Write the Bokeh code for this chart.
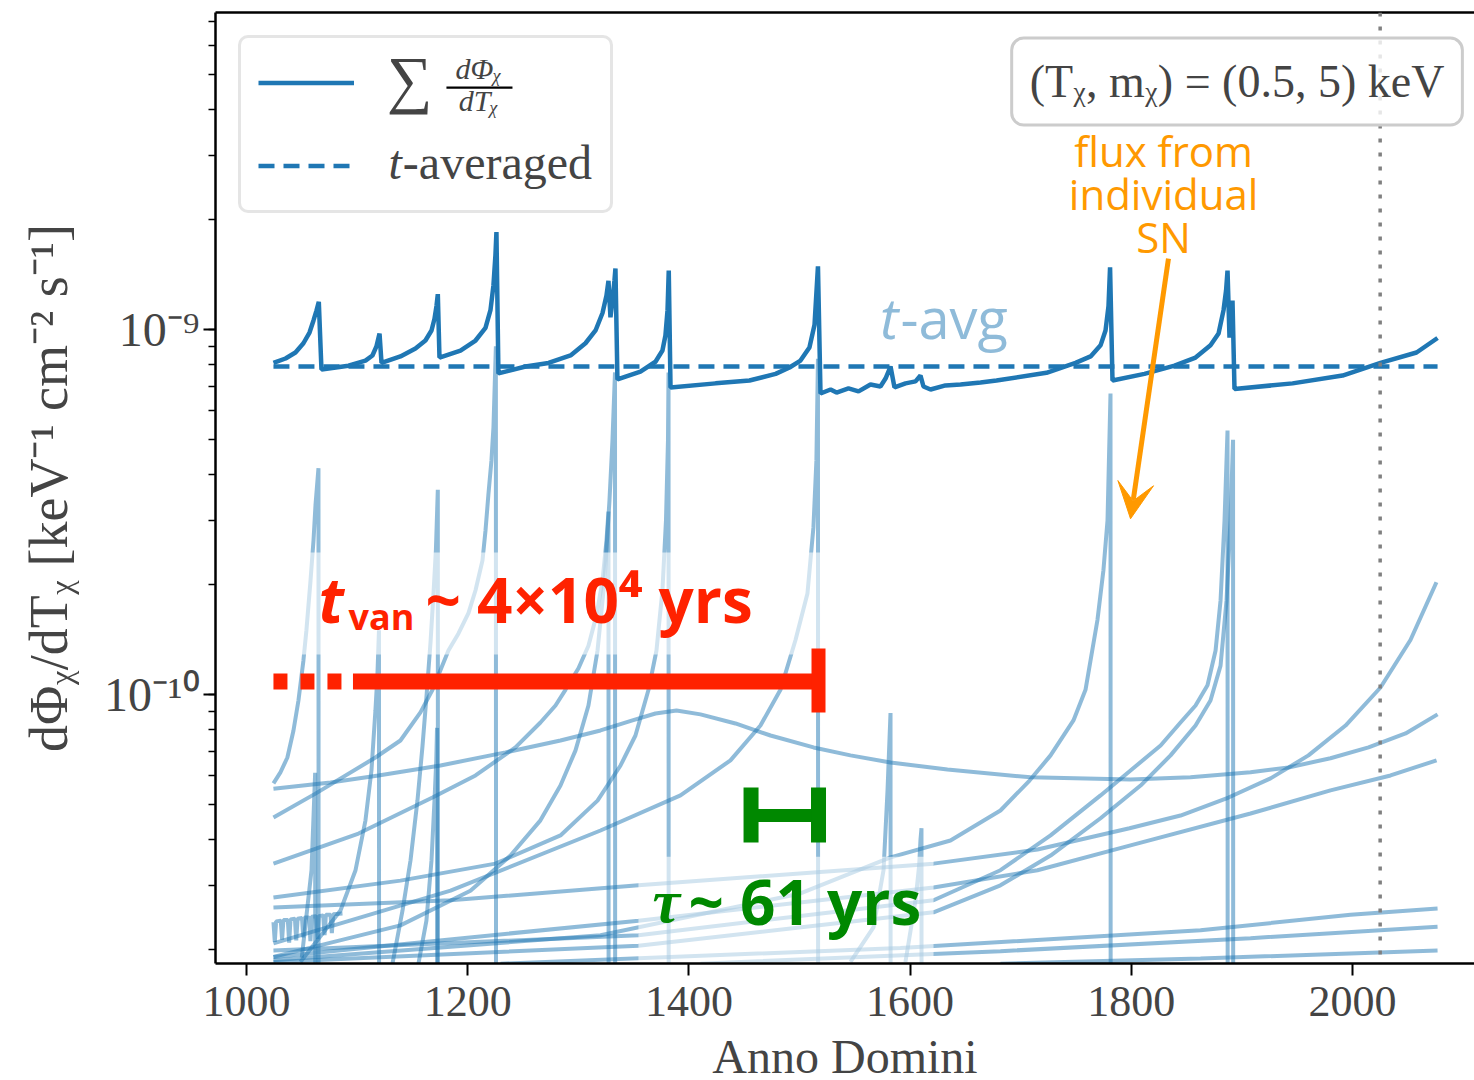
from bokeh.plotting import figure
from bokeh.models import (Range1d, LogTicker, FixedTicker, CustomJSTickFormatter,
                          LinearAxis, Legend, LegendItem, Label, Arrow, VeeHead,
                          Span, BoxAnnotation)
from bokeh.embed import file_html
from bokeh.resources import INLINE

UNIT = 1e-10  # all flux lists below are in units of 1e-10 keV^-1 cm^-2 s^-1

year_ticks = [1000, 1200, 1400, 1600, 1800, 2000]
today = 2025

# ---- summed flux over all supernovae ----
sum_year = [1024.4, 1035.3, 1044.3, 1051.5, 1057.0, 1060.6, 1063.3, 1065.4,
            1067.8, 1092.2, 1107.6, 1113.9, 1117.5, 1120.3,
            1122.1, 1139.2, 1152.8, 1161.8, 1167.3, 1170.0, 1171.8, 1173.0,
            1174.5, 1193.5, 1207.1, 1216.1, 1220.6, 1223.3, 1225.1, 1226.0,
            1227.8, 1252.3, 1273.1, 1293.0, 1306.5, 1315.6, 1321.9, 1325.5, 1327.3, 1329.1,
            1330.9, 1332.7, 1333.6,
            1335.4, 1356.2, 1369.8, 1376.1, 1378.8, 1380.7, 1381.8,
            1383.4, 1424.1, 1454.8, 1478.4, 1491.0, 1500.9, 1509.0, 1513.6, 1516.7,
            1519.0, 1528.1, 1533.5, 1544.3, 1553.4, 1564.2, 1573.2, 1577.8, 1582.3, 1585.9,
            1595.9, 1604.9, 1609.4, 1612.1, 1618.5, 1632.0, 1645.6, 1663.7,
            1678.1, 1723.3, 1749.6, 1763.2, 1772.2, 1776.7, 1779.4, 1780.8,
            1783.0, 1811.9, 1839.1, 1858.1, 1871.6, 1878.9, 1883.4, 1885.7, 1887.0, 1888.8,
            1890.6, 1891.5,
            1893.3, 1945.8, 1991.0, 2025.3, 2057.9, 2076.9]
sum_flux = [8.10, 8.33, 8.65, 9.17, 9.81, 10.59, 11.27, 11.9,
            7.77, 7.96, 8.22, 8.49, 8.99, 9.75,
            8.10, 8.44, 8.87, 9.33, 9.94, 10.7, 11.6, 12.5,
            8.38, 8.76, 9.33, 10.1, 11.3, 13.2, 16.0, 18.5,
            7.58, 7.92, 8.10, 8.49, 9.17, 9.94, 11.1, 12.4, 13.6, 10.8,
            12.0, 13.6, 14.7,
            7.30, 7.67, 8.16, 8.76, 9.63, 11.3, 14.5,
            6.94, 7.12, 7.25, 7.56, 7.87, 8.22, 8.93, 10.3, 14.9,
            6.68, 6.85, 6.72, 6.90, 6.77, 7.07, 6.98, 7.34, 7.92, 6.94,
            7.12, 7.21, 7.48, 6.98, 6.85, 7.03, 7.07, 7.16,
            7.25, 7.61, 8.10, 8.44, 9.05, 9.94, 11.6, 14.8,
            7.25, 7.56, 7.96, 8.38, 9.05, 9.75, 11.3, 12.8, 14.5, 9.50,
            10.9, 12.0,
            6.87, 7.12, 7.48, 8.10, 8.65, 9.48]

avg_year = [1024.4, 2076.9]
avg_flux = [7.92, 7.92]

# ---- individual supernova contributions (0.001 = flux gone after arrival) ----
sn1062_year = [1050.0, 1058.8, 1062.1, 1062.4]
sn1062_flux = [0.19, 0.33, 0.61, 0.001]
sn1065_year = [1024.4, 1030.7, 1037.0, 1042.5, 1047.0, 1051.5, 1054.2, 1057.9, 1060.6, 1062.4, 1065.1, 1065.4]
sn1065_flux = [0.571, 0.612, 0.672, 0.797, 0.963, 1.24, 1.50, 2.05, 2.64, 3.30, 4.17, 0.001]
sn1120_year = [1048.8, 1085.0, 1098.6, 1107.6, 1113.0, 1116.6, 1118.4, 1119.8, 1120.1]
sn1120_flux = [0.185, 0.256, 0.330, 0.452, 0.619, 0.904, 1.13, 1.50, 0.001]
sn1173_year = [1132.0, 1141.1, 1148.3, 1154.6, 1159.1, 1162.7, 1166.4, 1169.1, 1171.3, 1173.0, 1173.3]
sn1173_flux = [0.183, 0.256, 0.351, 0.512, 0.719, 0.982, 1.39, 1.89, 2.50, 3.64, 0.001]
sn1172_year = [1155.5, 1162.7, 1167.3, 1170.0, 1171.6, 1172.3, 1172.6]
sn1172_flux = [0.183, 0.240, 0.351, 0.512, 0.660, 0.81, 0.001]
sn1226_year = [1024.4, 1062.4, 1116.6, 1139.2, 1157.3, 1168.2, 1182.6, 1191.7, 1200.7, 1207.1,
               1213.4, 1216.1, 1218.8, 1221.5, 1223.3, 1225.5, 1225.8]
sn1226_flux = [0.46, 0.535, 0.672, 0.748, 0.893, 1.03, 1.32, 1.47, 1.67, 1.93,
               2.33, 2.81, 3.55, 4.38, 5.39, 9.0, 0.001]
sn1327_year = [1024.4, 1101.3, 1168.2, 1207.1, 1243.2, 1265.8, 1279.4, 1288.4, 1300.2, 1309.2,
               1316.5, 1321.9, 1325.5, 1327.3, 1327.6]
sn1327_flux = [0.344, 0.416, 0.522, 0.600, 0.716, 0.838, 0.933, 1.03, 1.18, 1.36,
               1.65, 2.05, 2.64, 3.17, 0.001]
sn1333_year = [1024.4, 1139.2, 1202.5, 1238.7, 1265.8, 1283.9, 1297.5, 1309.2, 1317.4, 1323.7,
               1328.2, 1330.9, 1333.2, 1333.5]
sn1333_flux = [0.191, 0.233, 0.290, 0.362, 0.452, 0.563, 0.703, 0.933, 1.32, 2.05,
               3.40, 4.96, 7.63, 0.001]
sn1382_year = [1024.4, 1139.2, 1225.1, 1283.9, 1317.4, 1338.2, 1351.7, 1363.5, 1370.7, 1376.1,
               1379.3, 1381.1, 1381.6, 1381.9]
sn1382_flux = [0.278, 0.309, 0.344, 0.411, 0.512, 0.639, 0.772, 1.03, 1.32, 1.93,
               3.00, 4.96, 7.63, 0.001]
sn1517_year = [1024.4, 1184.5, 1320.1, 1392.4, 1437.6, 1464.7, 1482.8, 1496.4, 1507.2, 1512.6,
               1515.3, 1516.7, 1517.0]
sn1517_flux = [0.208, 0.290, 0.424, 0.529, 0.660, 0.822, 1.03, 1.41, 1.89, 2.87,
               4.38, 8.32, 0.001]
sn1582_year = [1546.1, 1566.9, 1576.0, 1579.6, 1582.3, 1582.6]
sn1582_flux = [0.185, 0.23, 0.33, 0.546, 0.89, 0.001]
sn1610_year = [1595.8, 1604.9, 1608.2, 1609.4, 1610.3, 1610.6]
sn1610_flux = [0.185, 0.273, 0.34, 0.40, 0.43, 0.001]
sn1781_year = [1024.4, 1320.1, 1500.9, 1582.3, 1636.5, 1681.7, 1708.0, 1727.0, 1747.7, 1758.6,
               1769.4, 1774.8, 1778.5, 1781.2, 1781.5]
sn1781_flux = [0.187, 0.219, 0.285, 0.358, 0.398, 0.481, 0.581, 0.681, 0.849, 1.03,
               1.60, 2.19, 3.00, 6.68, 0.001]
sn1887_year = [1024.4, 1354.4, 1621.2, 1681.7, 1727.0, 1772.2, 1799.3, 1826.5, 1844.5, 1858.1,
               1868.9, 1876.2, 1880.7, 1884.3, 1887.0, 1887.3]
sn1887_flux = [0.199, 0.219, 0.273, 0.330, 0.411, 0.529, 0.619, 0.725, 0.838, 0.933,
               1.06, 1.32, 1.81, 3.00, 5.29, 0.001]
sn1892_year = [1024.4, 1354.4, 1621.2, 1681.7, 1727.0, 1772.2, 1808.4, 1835.5, 1858.1, 1871.6,
               1880.7, 1886.1, 1889.7, 1892.0, 1892.3]
sn1892_flux = [0.185, 0.205, 0.253, 0.300, 0.362, 0.458, 0.563, 0.681, 0.822, 0.963,
               1.20, 1.81, 3.00, 4.99, 0.001]

hump_year = [1024.4, 1076.0, 1119.3, 1175.4, 1234.2, 1283.9, 1320.1, 1349.0, 1369.8, 1388.8,
             1410.5, 1442.1, 1473.8, 1512.7, 1546.1, 1582.3, 1633.8, 1708.9, 1799.3, 1853.5,
             1907.8, 1942.1, 1980.1, 2014.5, 2048.0, 2076.9]
hump_flux = [0.552, 0.574, 0.600, 0.639, 0.694, 0.748, 0.797, 0.849, 0.887, 0.904,
             0.882, 0.833, 0.772, 0.716, 0.681, 0.651, 0.623, 0.593, 0.585, 0.593,
             0.612, 0.631, 0.669, 0.716, 0.782, 0.882]
late_a_year = [1024.4, 1184.5, 1354.4, 1621.2, 1715.2, 1798.4, 1844.5, 1887.9, 1925.9, 1960.2,
               1993.7, 2025.3, 2052.4, 2075.9]
late_a_flux = [0.261, 0.273, 0.300, 0.344, 0.376, 0.430, 0.466, 0.522, 0.589, 0.681,
               0.822, 1.045, 1.41, 2.03]
late_b_year = [1024.4, 1354.4, 1621.2, 1715.2, 1799.3, 1907.8, 1980.1, 2034.4, 2076.0]
late_b_flux = [0.191, 0.240, 0.296, 0.330, 0.386, 0.472, 0.546, 0.600, 0.660]
floor_a_year = [1229.7, 1591.3, 1862.6, 1998.2, 2076.9]
floor_a_flux = [0.183, 0.202, 0.226, 0.249, 0.259]
floor_b_year = [1410.5, 1681.7, 1907.8, 2076.9]
floor_b_flux = [0.183, 0.198, 0.215, 0.231]
floor_c_year = [1681.7, 1862.6, 2076.9]
floor_c_flux = [0.183, 0.189, 0.199]
comb_year = [1024.4, 1025.6, 1026.8, 1031.0, 1032.2, 1033.4, 1037.4, 1038.6, 1039.8, 1043.8,
             1045.0, 1046.2, 1050.2, 1051.4, 1052.6, 1056.6, 1057.8, 1059.0, 1063.0, 1064.2,
             1065.4, 1069.4, 1070.6, 1071.8, 1076.0, 1077.2, 1078.4, 1086.8]
comb_flux = [0.238, 0.210, 0.239, 0.240, 0.213, 0.241, 0.241, 0.209, 0.242, 0.243,
             0.212, 0.243, 0.244, 0.216, 0.245, 0.245, 0.211, 0.246, 0.247, 0.214,
             0.247, 0.248, 0.219, 0.249, 0.249, 0.222, 0.250, 0.251]

individual = [
    (sn1062_year, sn1062_flux), (sn1065_year, sn1065_flux), (sn1120_year, sn1120_flux),
    (sn1173_year, sn1173_flux), (sn1172_year, sn1172_flux), (sn1226_year, sn1226_flux),
    (sn1327_year, sn1327_flux), (sn1333_year, sn1333_flux), (sn1382_year, sn1382_flux),
    (sn1517_year, sn1517_flux), (sn1582_year, sn1582_flux), (sn1610_year, sn1610_flux),
    (sn1781_year, sn1781_flux), (sn1887_year, sn1887_flux), (sn1892_year, sn1892_flux),
    (hump_year, hump_flux), (late_a_year, late_a_flux), (late_b_year, late_b_flux),
    (floor_a_year, floor_a_flux), (floor_b_year, floor_b_flux), (floor_c_year, floor_c_flux),
    (comb_year, comb_flux),
]

# annotated time scales (years)
t_van_end = 1517.2
tau_years = 61

C0 = "#1f77b4"
RED = "#ff2200"
GREEN = "#008800"
ORANGE = "#ff9900"
SERIF = "Liberation Serif"
SANS = "Open Sans"


def scaled(vals):
    return [v * UNIT for v in vals]


p = figure(frame_width=1259, frame_height=951,
           min_border_left=215, min_border_right=0, min_border_top=12, min_border_bottom=117,
           x_range=Range1d(972.0, 2110.3), y_range=Range1d(1.832e-11, 7.39e-9),
           y_axis_type="log", output_backend="svg", toolbar_location=None,
           background_fill_color="white", border_fill_color="white")
p.outline_line_color = None
p.xgrid.visible = False
p.ygrid.visible = False

# axes
for ax in (p.xaxis[0], p.yaxis[0]):
    ax.axis_line_width = 2.5
    ax.major_tick_line_width = 2
    ax.minor_tick_line_width = 1.5
    ax.major_tick_in = 0
    ax.major_tick_out = 12
    ax.minor_tick_in = 0
    ax.minor_tick_out = 7
    ax.major_label_text_font = SERIF
    ax.axis_label_text_font = SERIF
    ax.axis_label_text_font_style = "normal"

p.xaxis.ticker = FixedTicker(ticks=year_ticks, minor_ticks=[])
p.xaxis.major_label_text_font_size = "44px"
p.xaxis.major_label_standoff = 11
p.xaxis.axis_label = "Anno Domini"
p.xaxis.axis_label_text_font_size = "48px"
p.xaxis.axis_label_standoff = 11

p.yaxis.ticker = LogTicker(num_minor_ticks=10)
p.yaxis.formatter = CustomJSTickFormatter(code="""
const sup = {"-": "\u207b", "0": "\u2070", "1": "\u00b9", "2": "\u00b2", "3": "\u00b3",
             "4": "\u2074", "5": "\u2075", "6": "\u2076", "7": "\u2077", "8": "\u2078", "9": "\u2079"};
const e = Math.round(Math.log10(tick));
return "10" + String(e).split("").map(c => sup[c]).join("");
""")
p.yaxis.major_label_text_font_size = "48px"
p.yaxis.major_label_standoff = 4
p.yaxis.axis_label = "dΦᵪ/dTᵪ [keV⁻¹ cm⁻² s⁻¹]"
p.yaxis.axis_label_text_font_size = "54px"
p.yaxis.axis_label_standoff = 22

top = LinearAxis(ticker=FixedTicker(ticks=[]), axis_line_width=2.5,
                 major_tick_out=0, minor_tick_out=0, major_label_standoff=0,
                 major_label_text_font_size="0px")
p.add_layout(top, "above")

# individual supernova curves
for yrs, fl in individual:
    p.line(yrs, scaled(fl), line_color=C0, line_alpha=0.5, line_width=4)

# translucent panels behind the annotation texts
p.quad(left=1048.8, right=1565.2, bottom=1.288e-10, top=2.45e-10,
       fill_color="white", fill_alpha=0.6, line_color=None)
p.quad(left=1354.4, right=1621.2, bottom=1.80e-11, top=3.59e-11,
       fill_color="white", fill_alpha=0.6, line_color=None)

# summed and time-averaged flux
sum_r = p.line(sum_year, scaled(sum_flux), line_color=C0, line_width=4.5)
avg_r = p.line(avg_year, scaled(avg_flux), line_color=C0, line_width=4.5, line_dash="16 9")

# vanishing-time bar
bar_y = 1.086e-10
p.segment(x0=[1024.4], x1=[1085.9], y0=[bar_y], y1=[bar_y], line_color=RED,
          line_width=16, line_dash="14 13")
p.segment(x0=[1096.3], x1=[t_van_end], y0=[bar_y], y1=[bar_y], line_color=RED, line_width=16)
p.segment(x0=[t_van_end], x1=[t_van_end], y0=[8.93e-11], y1=[1.336e-10], line_color=RED,
          line_width=14)

# tau bar
tau_y = 4.66e-11
p.segment(x0=[t_van_end - tau_years], x1=[t_van_end], y0=[tau_y], y1=[tau_y],
          line_color=GREEN, line_width=13)
p.segment(x0=[t_van_end - tau_years, t_van_end], x1=[t_van_end - tau_years, t_van_end],
          y0=[3.93e-11, 3.93e-11], y1=[5.56e-11, 5.56e-11], line_color=GREEN, line_width=15)

# present day
p.add_layout(Span(location=today, dimension="height", line_color="#808080",
                  line_width=3.5, line_dash="4 10"))

# legend: box and line samples; the entry texts are set on top as separate labels
legend = Legend(items=[LegendItem(label=" ", renderers=[sum_r]),
                       LegendItem(label="t-averaged", renderers=[avg_r])],
                location="top_left", margin=23, padding=17, spacing=28,
                glyph_width=96, glyph_height=55, label_height=55, label_standoff=36,
                label_text_font=SERIF, label_text_font_size="48px", label_text_alpha=0.0,
                border_line_color="#cccccc", border_line_width=3,
                background_fill_alpha=0.0)
if "border_radius" in Legend.properties():
    legend.border_radius = 10
p.add_layout(legend)

p.add_layout(Label(x=1147.4, y=4.84e-9, text="∑", text_font=SERIF, text_font_size="64px",
                   text_align="center", text_baseline="alphabetic", level="overlay"))
p.add_layout(Label(x=1209.8, y=5.19e-9, text="dΦᵪ", text_font=SERIF, text_font_size="30px",
                   text_font_style="italic", text_align="center", text_baseline="alphabetic",
                   level="overlay"))
p.add_layout(BoxAnnotation(left=1180.8, right=1240.5, bottom=4.57e-9, top=4.63e-9,
                           fill_color="black", fill_alpha=1.0, line_color=None, level="overlay"))
p.add_layout(Label(x=1209.8, y=4.24e-9, text="dTᵪ", text_font=SERIF, text_font_size="30px",
                   text_font_style="italic", text_align="center", text_baseline="alphabetic",
                   level="overlay"))
p.add_layout(Label(x=1128.4, y=2.87e-9, text="t", text_font=SERIF, text_font_size="48px",
                   text_font_style="italic", text_align="left", text_baseline="alphabetic",
                   level="overlay"))
p.add_layout(Label(x=1141.4, y=2.87e-9, text="-averaged", text_font=SERIF, text_font_size="48px",
                   text_align="left", text_baseline="alphabetic", level="overlay"))

# parameter box
p.add_layout(Label(x=1895.6, y=4.78e-9, text="(Tᵪ, mᵪ) = (0.5, 5) keV", text_font=SERIF,
                   text_font_size="46px", text_align="center", text_baseline="middle",
                   background_fill_color="white", background_fill_alpha=0.8,
                   border_line_color="#cccccc", border_line_width=3, border_radius=12,
                   padding=18))

# orange annotation
p.add_layout(Label(x=1829.2, y=2.36e-9, text="flux from\nindividual\nSN", text_font=SANS,
                   text_font_size="42px", text_color=ORANGE, text_align="center",
                   text_baseline="middle", text_line_height=0.75))
p.add_layout(Arrow(end=VeeHead(size=36, fill_color=ORANGE, line_color=ORANGE),
                   x_start=1833.6, y_start=1.565e-9, x_end=1799.3, y_end=3.03e-10,
                   line_color=ORANGE, line_width=5))

# t-avg tag
p.add_layout(Label(x=1589.5, y=1.079e-9, text="t", text_font=SANS, text_font_size="56px",
                   text_font_style="italic", text_color="#8fbbd9", text_align="right",
                   text_baseline="alphabetic"))
p.add_layout(Label(x=1591.3, y=1.079e-9, text="-avg", text_font=SANS, text_font_size="56px",
                   text_color="#8fbbd9", text_align="left", text_baseline="alphabetic"))

# vanishing time text
p.add_layout(Label(x=1065.1, y=1.832e-10, text="t", text_font=SANS, text_font_size="62px",
                   text_font_style="bold italic", text_color=RED, text_baseline="alphabetic"))
p.add_layout(Label(x=1092.2, y=1.637e-10, text="van", text_font=SANS, text_font_size="36px",
                   text_font_style="bold", text_color=RED, text_baseline="alphabetic"))
p.add_layout(Label(x=1161.9, y=1.832e-10, text="~ 4×10⁴ yrs", text_font=SANS,
                   text_font_size="62px", text_font_style="bold", text_color=RED,
                   text_baseline="alphabetic"))

# tau text
p.add_layout(Label(x=1367.1, y=2.71e-11, text="τ", text_font=SERIF, text_font_size="62px",
                   text_font_style="bold italic", text_color=GREEN, text_baseline="alphabetic"))
p.add_layout(Label(x=1399.6, y=2.71e-11, text="~ 61 yrs", text_font=SANS, text_font_size="62px",
                   text_font_style="bold", text_color=GREEN, text_baseline="alphabetic"))

open("out.html", "w").write(file_html(p, INLINE))
